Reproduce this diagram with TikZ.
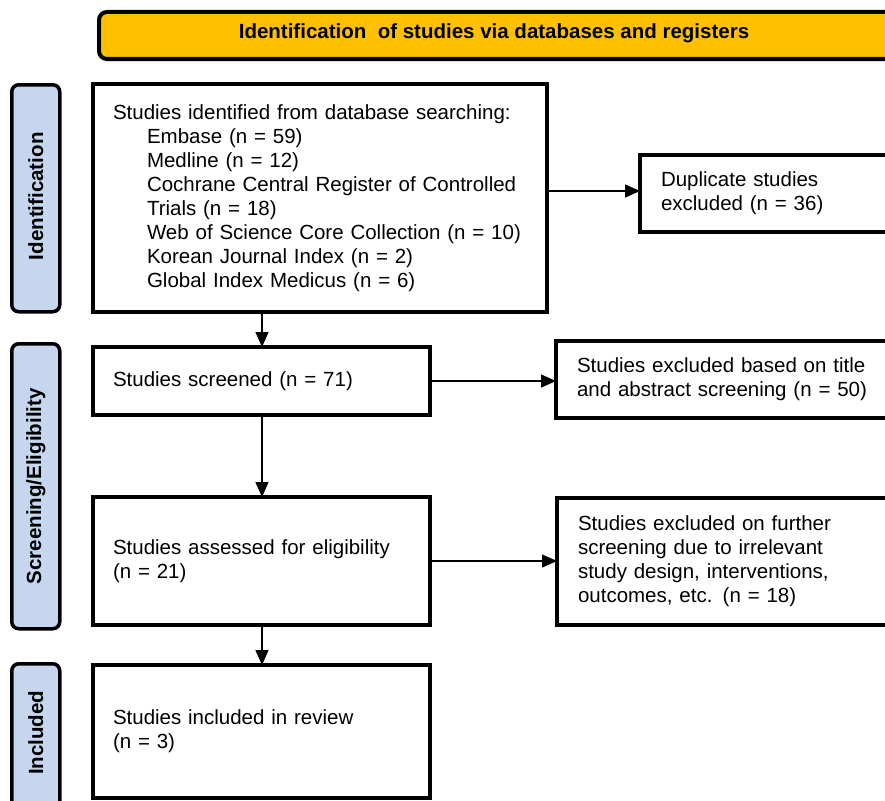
\documentclass[tikz,border=0pt]{standalone}
\usepackage{fontspec}
\setmainfont{Liberation Sans}
\usetikzlibrary{arrows.meta}
\definecolor{banner}{HTML}{FFC000}
\definecolor{phase}{HTML}{C6D6EE}
\tikzset{
  x=1pt, y=-1pt,
  txt/.style={font=\fontsize{20.5}{24}\selectfont},
  box/.style={draw=black, line width=3.5pt, fill=white, rectangle, anchor=north west,
    inner sep=0pt, outer sep=0pt, align=left, txt},
  phasebox/.style={draw=black, line width=3.5pt, fill=phase, rounded corners=7pt,
    rectangle, anchor=north west, inner sep=0pt, minimum width=48pt},
  phaselabel/.style={rotate=90, font=\fontsize{20.5}{24}\selectfont\bfseries},
  arr/.style={line width=1.3pt, -{Triangle[length=15pt,width=13pt]}},
}
\begin{document}
\begin{tikzpicture}
\useasboundingbox (0,0) rectangle (885,800);
\clip (0,0) rectangle (885,800);
% banner
\node[draw=black, line width=4pt, fill=banner, rounded corners=8pt, anchor=north west,
  minimum width=800pt, minimum height=47pt, inner sep=0pt] (ban) at (97,10) {};
\node[font=\fontsize{20.5}{24}\selectfont\bfseries] (bantxt) at (494,33) {Identification\ \ of studies via databases and registers};
% phase labels
\node[phasebox, minimum height=227pt] (p1) at (10,83) {};
\node[phaselabel] (p1t) at ([yshift=2pt]p1.center) {Identification};
\node[phasebox, minimum height=285pt] (p2) at (10,342) {};
\node[phaselabel] (p2t) at (p2.center) {Screening/Eligibility};
\node[phasebox, minimum height=150pt] (p3) at (10,662) {};
\node[phaselabel] (p3t) at ([yshift=6pt]p3.center) {Included};
% boxes
\node[box, minimum width=454pt, minimum height=228pt, text width=414pt] (b1) at (93,84)
 {Studies identified from database searching:\\
  \hspace*{34pt}Embase (n = 59)\\
  \hspace*{34pt}Medline (n = 12)\\
  \hspace*{34pt}Cochrane Central Register of Controlled\\
  \hspace*{34pt}Trials (n = 18)\\
  \hspace*{34pt}Web of Science Core Collection (n = 10)\\
  \hspace*{34pt}Korean Journal Index (n = 2)\\
  \hspace*{34pt}Global Index Medicus (n = 6)};
\node[box, minimum width=300pt, minimum height=77pt, text width=258pt] (dup) at (640,155)
 {Duplicate studies\\excluded (n = 36)};
\node[box, minimum width=337pt, minimum height=68pt, text width=297pt] (scr) at (93,347)
 {Studies screened (n = 71)};
\node[box, minimum width=360pt, minimum height=77pt, text width=318pt] (ex1) at (556,341)
 {Studies excluded based on title\\and abstract screening (n = 50)};
\node[box, minimum width=337pt, minimum height=128pt, text width=297pt] (ass) at (93,497)
 {Studies assessed for eligibility\\(n = 21)};
\node[box, minimum width=360pt, minimum height=127pt, text width=318pt] (ex2) at (557,498)
 {Studies excluded on further\\screening due to irrelevant\\study design, interventions,\\outcomes, etc. (n = 18)};
\node[box, minimum width=337pt, minimum height=133pt, text width=297pt] (inc) at (93,665)
 {Studies included in review\\(n = 3)};
% arrows
\draw[arr] (b1.south -| 262,0) -- (scr.north -| 262,0);
\draw[arr] (b1.east |- 0,191) -- (dup.west |- 0,191);
\draw[arr] (scr.east) -- (ex1.west |- scr.east);
\draw[arr] (scr.south -| 262,0) -- (ass.north -| 262,0);
\draw[arr] (ass.east) -- (ex2.west |- ass.east);
\draw[arr] (ass.south -| 262,0) -- (inc.north -| 262,0);
\end{tikzpicture}
\end{document}
